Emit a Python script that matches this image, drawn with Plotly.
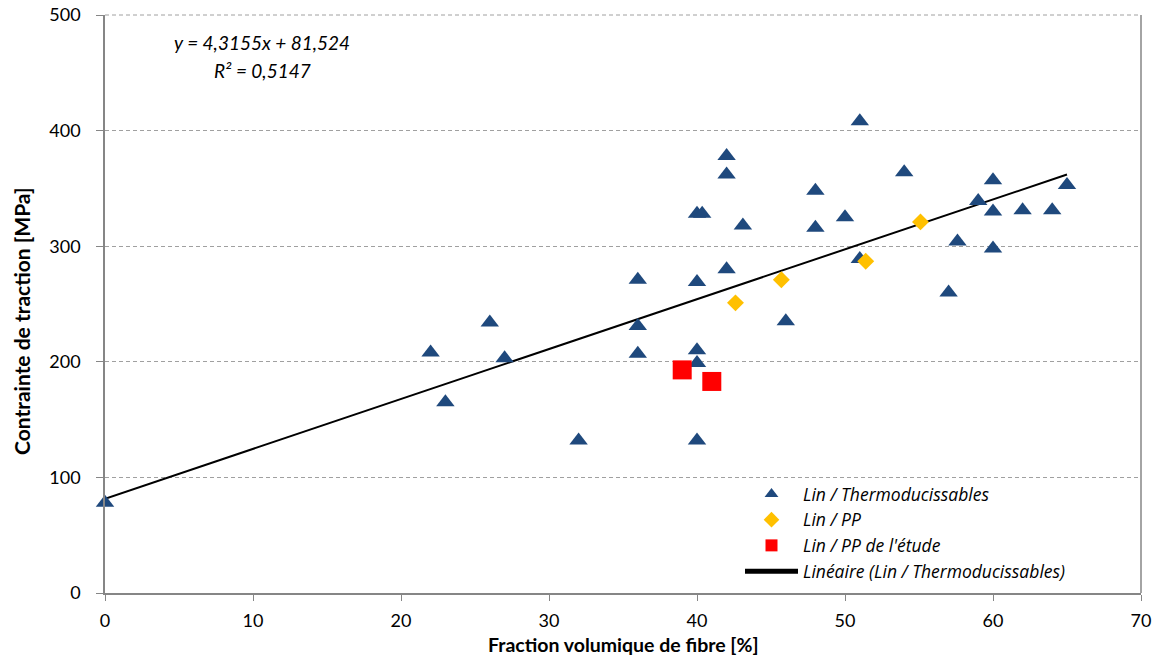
import plotly.graph_objects as go
import numpy as np

# Lin / Thermoducissables
thermo_x = [0, 22, 23, 26, 27, 32, 36, 36, 36, 40, 40, 40, 40, 40, 40.35,
            42, 42, 42, 43.1, 46, 48, 48, 50, 51, 51, 54, 57, 57.6, 59, 60, 60, 60, 62, 64, 65]
thermo_y = [78, 208, 165, 234, 203, 132, 271, 231, 207, 328, 269, 210, 199, 132, 328,
            378, 362, 280, 318, 235, 348, 316, 325, 408, 289, 364, 260, 304, 339, 357, 330, 298, 331, 331, 353]

# Lin / PP
pp_x = [42.6, 45.7, 51.4, 55.1]
pp_y = [251, 271, 287, 321]

# Lin / PP de l'étude
etude_x = [39, 41]
etude_y = [193, 183]

# Linear trend (as reported)
trend_slope = 4.3155
trend_intercept = 81.524
trend_range = [0, 65]

x_ticks = [0, 10, 20, 30, 40, 50, 60, 70]
y_ticks = [0, 100, 200, 300, 400, 500]

font_main = "Lato, 'Open Sans', Arial, sans-serif"
font_legend = "'Open Sans', Lato, Arial, sans-serif"

W, H = 1160, 657
PL, PT, PW, PH = 105, 15, 1036, 578
L, T = PL, PT
R = W - L - PW
B = H - T - PH


def px_x(px):
    return (px - PL) / PW


def px_y(py):
    return (PT + PH - py) / PH


fig = go.Figure()

tx = np.array(trend_range, dtype=float)
ty = trend_slope * tx + trend_intercept

fig.add_trace(go.Scatter(
    x=tx, y=ty, mode="lines", name="Linéaire (Lin / Thermoducissables)",
    line=dict(color="black", width=2), legendrank=4,
))
fig.add_trace(go.Scatter(
    x=thermo_x, y=thermo_y, mode="markers", name="Lin / Thermoducissables",
    marker=dict(symbol="triangle-up", size=16, color="#1F497D"), legendrank=1,
    cliponaxis=False,
))
fig.add_trace(go.Scatter(
    x=pp_x, y=pp_y, mode="markers", name="Lin / PP",
    marker=dict(symbol="diamond", size=13, color="#FFC000"), legendrank=2,
    cliponaxis=False,
))
fig.add_trace(go.Scatter(
    x=etude_x, y=etude_y, mode="markers", name="Lin / PP de l'étude",
    marker=dict(symbol="square", size=19, color="#FF0000"), legendrank=3,
    cliponaxis=False,
))

fig.update_layout(
    width=W, height=H,
    margin=dict(l=L, r=R, t=T, b=B, autoexpand=False),
    paper_bgcolor="white", plot_bgcolor="white",
    font=dict(family=font_main, size=18, color="black"),
    showlegend=True,
    legend=dict(
        x=px_x(740), y=px_y(476), xanchor="left", yanchor="top",
        bgcolor="rgba(0,0,0,0)",
        font=dict(family=font_legend, size=17.5, style="italic"),
        itemsizing="constant", itemwidth=53,
        tracegroupgap=0,
    ),
    xaxis=dict(
        range=[0, 70], tickvals=x_ticks, ticks="outside", ticklen=6,
        tickcolor="#868686", showline=True, linecolor="#868686", linewidth=1.5,
        showgrid=False, zeroline=False, automargin=False,
        ticklabelstandoff=5,
        tickfont=dict(family=font_main, size=18),
    ),
    yaxis=dict(
        range=[0, 500], tickvals=y_ticks, ticks="outside", ticklen=7,
        tickcolor="#868686", showline=True, linecolor="#868686", linewidth=1.5,
        showgrid=True, gridcolor="#A0A0A0", griddash="4px,3px", gridwidth=1,
        zeroline=False, automargin=False,
        ticklabelstandoff=12,
        tickfont=dict(family=font_main, size=18),
    ),
)

# top gridline (dashed, at range end) and right border of plot area
fig.add_shape(type="line", xref="paper", yref="paper", x0=0, x1=1, y0=1, y1=1,
              line=dict(color="#A0A0A0", width=1, dash="4px,3px"))
fig.add_shape(type="line", xref="paper", yref="paper", x0=1, x1=1, y0=0, y1=1,
              line=dict(color="#868686", width=1.5))

# axis titles
fig.add_annotation(
    xref="paper", yref="paper", x=px_x(623), y=px_y(644),
    text="<b>Fraction volumique de fibre [%]</b>", showarrow=False,
    font=dict(family=font_main, size=19.5), xanchor="center", yanchor="middle",
)
fig.add_annotation(
    xref="paper", yref="paper", x=px_x(21), y=px_y(322),
    text="<b>Contrainte de traction [MPa]</b>", showarrow=False, textangle=-90,
    font=dict(family=font_main, size=21), xanchor="center", yanchor="middle",
)

# trend equation
fig.add_annotation(
    xref="paper", yref="paper", x=px_x(262), y=px_y(43),
    text="y = 4,3155x + 81,524", showarrow=False,
    font=dict(family=font_main, size=19, style="italic"), xanchor="center", yanchor="middle",
)
fig.add_annotation(
    xref="paper", yref="paper", x=px_x(262), y=px_y(70),
    text="R² = 0,5147", showarrow=False,
    font=dict(family=font_main, size=19, style="italic"), xanchor="center", yanchor="middle",
)

fig.write_html(
    "out.html",
    config={"displayModeBar": False},
    post_script="document.body.style.margin='0';document.body.style.overflow='hidden';",
)
